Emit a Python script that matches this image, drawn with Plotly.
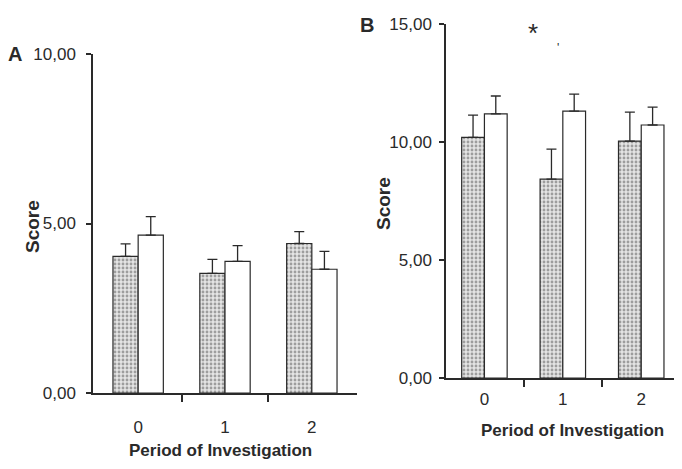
import plotly.graph_objects as go

periods = [0, 1, 2]
period_labels = ["0", "1", "2"]

# Panel A
a_hatched = [4.03, 3.53, 4.41]
a_hatched_err = [0.37, 0.41, 0.35]
a_white = [4.66, 3.88, 3.65]
a_white_err = [0.54, 0.47, 0.53]

# Panel B
b_hatched = [10.2, 8.43, 10.04]
b_hatched_err = [0.94, 1.27, 1.23]
b_white = [11.19, 11.31, 10.72]
b_white_err = [0.76, 0.72, 0.76]

a_yticks = [0, 5, 10]
a_yticktext = ["0,00", "5,00", "10,00"]
b_yticks = [0, 5, 10, 15]
b_yticktext = ["0,00", "5,00", "10,00", "15,00"]

FONT = "Liberation Sans, Arial, Helvetica, sans-serif"
INK = "#2a2a2a"

# page body has an 8px margin; figure sized to fill the rest of the window
OFF = 8
W, H = 682 - OFF, 469 - OFF

def px(x):
    return (x - OFF) / W

def py(y):
    return 1 - (y - OFF) / H

hatch = dict(color="#e6e6e6", line=dict(color=INK, width=1.2),
             pattern=dict(shape=".", fgcolor="#555", bgcolor="#e4e4e4", size=4, solidity=0.4))
plain = dict(color="white", line=dict(color=INK, width=1.2))

def err(vals):
    return dict(type="data", array=vals, arrayminus=[0]*len(vals), symmetric=False,
                color=INK, thickness=1.3, width=5)

fig = go.Figure()
fig.add_trace(go.Bar(x=periods, y=a_hatched, error_y=err(a_hatched_err), marker=hatch,
                     xaxis="x", yaxis="y", offsetgroup="h", showlegend=False))
fig.add_trace(go.Bar(x=periods, y=a_white, error_y=err(a_white_err), marker=plain,
                     xaxis="x", yaxis="y", offsetgroup="w", showlegend=False))
fig.add_trace(go.Bar(x=periods, y=b_hatched, error_y=err(b_hatched_err), marker=hatch,
                     xaxis="x2", yaxis="y2", offsetgroup="h", showlegend=False))
fig.add_trace(go.Bar(x=periods, y=b_white, error_y=err(b_white_err), marker=plain,
                     xaxis="x2", yaxis="y2", offsetgroup="w", showlegend=False))

def xax(domain, rng, anchor, ticklen):
    return dict(domain=domain, range=rng, anchor=anchor, showline=True, linecolor=INK, linewidth=1.5,
                showgrid=False, zeroline=False, tickvals=periods, ticktext=period_labels,
                ticks="outside", ticklen=ticklen, tickcolor="rgba(0,0,0,0)", automargin=False,
                tickfont=dict(family=FONT, size=17, color=INK),
                minor=dict(tickvals=[0.5, 1.5], ticks="outside", ticklen=7, tickcolor=INK, tickwidth=1.5))

def yax(domain, rng, anchor, tv, tt, standoff):
    return dict(domain=domain, range=rng, anchor=anchor, showline=True, linecolor=INK, linewidth=1.5,
                showgrid=False, zeroline=False, tickvals=tv, ticktext=tt, ticks="outside",
                ticklen=5, tickwidth=1.5, tickcolor=INK, automargin=False,
                ticklabelstandoff=standoff,
                tickfont=dict(family=FONT, size=17, color=INK))

fig.update_layout(
    width=W, height=H, margin=dict(l=0, r=0, t=0, b=0),
    paper_bgcolor="white", plot_bgcolor="white",
    barmode="group", bargap=0.42, bargroupgap=0,
    xaxis=xax([px(93), px(357)], [-0.52, 2.52], "y", 18),
    yaxis=yax([py(393), py(54)], [0, 10], "x", a_yticks, a_yticktext, 7),
    xaxis2=xax([px(446), 1.0], [-0.49, 2.52], "y2", 5),
    yaxis2=yax([py(378), py(24)], [0, 15], "x2", b_yticks, b_yticktext, 4),
)

def ann(text, x, y, size, bold=False, angle=0):
    t = f"<b>{text}</b>" if bold else text
    fig.add_annotation(text=t, x=px(x), y=py(y), xref="paper", yref="paper",
                       showarrow=False, textangle=angle, xanchor="center", yanchor="middle",
                       font=dict(family=FONT, size=size, color=INK))

ann("A", 15, 54, 20, bold=True)
ann("B", 367, 25, 20, bold=True)
ann("Score", 32, 227, 19, bold=True, angle=-90)
ann("Score", 383, 203, 19, bold=True, angle=-90)
ann("Period of Investigation", 221, 450, 17, bold=True)
ann("Period of Investigation", 572, 430, 17, bold=True)
ann("*", 533, 33, 26)
ann("'", 558, 48, 12)

fig.write_html("out.html")
